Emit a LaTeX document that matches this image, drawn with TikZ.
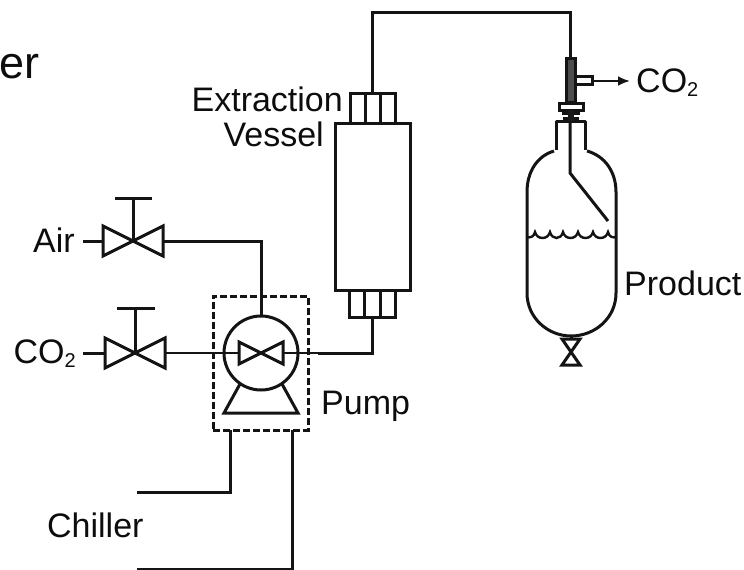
\documentclass[tikz,border=0pt]{standalone}
\usepackage{fontspec}
\setmainfont{Liberation Sans}
\usetikzlibrary{arrows.meta}
\newcommand{\cotwo}{CO\raisebox{-0.12em}{\fontsize{20}{20}\selectfont 2}}
\tikzset{
  x=1pt,y=-1pt,
  pipe/.style={draw=black!92,line width=3pt,line join=miter},
  thinpipe/.style={draw=black!92,line width=2.4pt},
  lbl/.style={inner sep=0pt,text=black!95,font=\fontsize{34}{38}\selectfont},
  box/.style={draw=black!92,line width=3pt,inner sep=0pt,outer sep=0pt},
  pics/bowtie/.style n args={2}{code={
    \draw[pipe] (-#1,-#2)--(#1,#2)--(#1,-#2)--(-#1,#2)--cycle;}},
}
\begin{document}
\begin{tikzpicture}
\useasboundingbox (0,0) rectangle (744,570);
\fill[white] (0,0) rectangle (744,570);

% labels
\node[lbl,anchor=base west,font=\fontsize{45}{50}\selectfont] (er) at (-1,78) {er};
\node[lbl,anchor=base east] (extr) at (343,111) {Extraction};
\node[lbl,anchor=base east] (vess) at (324,146) {Vessel};
\node[lbl,anchor=base east] (air) at (75,252) {Air};
\node[lbl,anchor=base east] (co2a) at (76,363) {\cotwo};
\node[lbl,anchor=base west] (pumpl) at (321,414) {Pump};
\node[lbl,anchor=base west] (chil) at (47,537) {Chiller};
\node[lbl,anchor=base west] (prod) at (624,295) {Product};
\node[lbl,anchor=base west] (co2b) at (636,92) {\cotwo};

% pump
\node[box,dash pattern=on 7pt off 3pt,minimum width=95pt,minimum height=134pt] (pumpbox) at (260.5,363) {};
\node[box,circle,minimum size=74pt] (pump) at (261,353) {};
\pic at (261,353) {bowtie={22}{11}};
\coordinate (bl) at (224,413);
\coordinate (br) at (298,413);
\draw[pipe] (240,384)--(bl)--(br)--(282,384);

% valves
\coordinate (v1) at (133,241);
\coordinate (v2) at (135,353);
\pic at (v1) {bowtie={30}{15}};
\pic at (v2) {bowtie={30}{15}};
\coordinate (v1top) at (133,198);
\coordinate (v2top) at (135,308);
\draw[pipe] (v1)--(v1top);
\draw[pipe] (115,198)--(152,198);
\draw[pipe] (v2)--(v2top);
\draw[pipe] (117,308)--(155,308);

% extraction vessel
\node[box,minimum width=75pt,minimum height=167pt] (vessel) at (372.5,206.5) {};
\node[box,minimum width=45pt,minimum height=30pt] (top) at (372.5,108) {};
\node[box,minimum width=46pt,minimum height=27pt] (bot) at (372,303.5) {};
\draw[pipe] (365,93)--(365,123) (380,93)--(380,123);
\draw[pipe] (364,290)--(364,317) (380,290)--(380,317);

% connectors
\coordinate (a1) at (83,241);
\coordinate (a2) at (83,353);
\draw[pipe] (a1)--(103,241);
\draw[pipe] (a2)--(105,353);
\draw[pipe] (163,241)-|(pump.north);
\draw[thinpipe] (165,353)--(239,353);
\draw[thinpipe] (283,353)--(320,353);
\draw[pipe] (318,353)-|(bot.south);
\draw[pipe] (top.north)|-(570,12)--(570,58);
\coordinate (c1) at (137,492);
\coordinate (c2) at (137,569);
\draw[pipe] (230,430)|-(c1);
\draw[pipe] (292,430)|-(c2);

% product vessel
\draw[pipe,line join=round] (556,150)--(556,121)--(585,121)--(585,150);
\draw[pipe] (554,151) .. controls (537,156) and (527,172) .. (527,192) -- (527,293)
  .. controls (527,318) and (548,336) .. (571,336)
  .. controls (595,336) and (616,318) .. (616,293) -- (616,192)
  .. controls (616,172) and (605,156) .. (587,151);
\draw[pipe] (570,110)--(570,173)--(608,221);
% liquid
\draw[thinpipe,line cap=round] (527,237) .. controls (530,238) and (534,237) .. (535,232)
  .. controls (537,240) and (548,240) .. (550,232)
  .. controls (552,240) and (561,240) .. (563,232)
  .. controls (565,240) and (576,240) .. (578,232)
  .. controls (580,240) and (591,240) .. (593,232)
  .. controls (595,240) and (606,240) .. (608,232)
  .. controls (609,237) and (613,238) .. (616,237);
% drain valve
\draw[pipe] (571,336)--(571,339);
\pic[rotate=90] at (571,352) {bowtie={13}{9}};
% fitting on top of flask
\node[box,fill=black!70,minimum width=9pt,minimum height=44pt] (tube) at (570.5,80) {};
\draw[pipe] (575,76)--(592,76)--(592,84)--(575,84);
\coordinate (co2tip) at (630,81);
\draw[thinpipe,-{Latex[length=12pt,width=10pt]}] (592,81)--(co2tip);
\node[box,minimum width=24pt,minimum height=7pt] (nut) at (571,106.5) {};
\draw[pipe] (562,113.5)--(580,113.5);
\draw[pipe] (563,118)--(579,118);
\draw[line width=6pt,black!90] (570.5,110)--(570.5,121);
\end{tikzpicture}
\end{document}
